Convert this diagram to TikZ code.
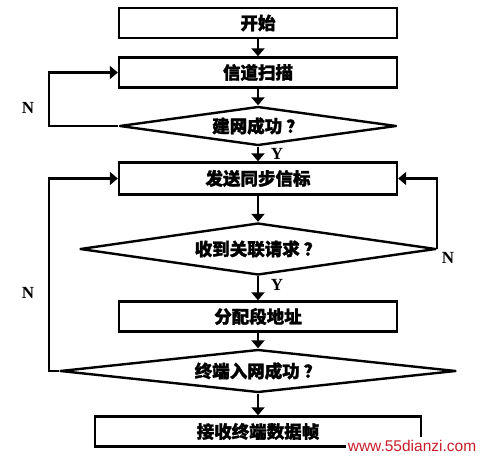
\documentclass[tikz,border=0pt]{standalone}
\usepackage{fontspec}
\usetikzlibrary{arrows.meta,shapes.geometric}
\setmainfont{Liberation Serif}
\setsansfont{Liberation Sans}
\newfontfamily\cjk{Noto Sans CJK SC}[BoldFeatures={FakeBold=1.5}]
\definecolor{ink}{HTML}{000000}
\definecolor{mark}{HTML}{C81E2A}
\tikzset{box/.style={draw=ink,line width=2.4pt,minimum width=278pt,minimum height=30pt,inner sep=0pt,font=\cjk\bfseries\fontsize{17.5}{17.5}\selectfont},
test/.style={diamond,aspect=7,draw=ink,line width=2.4pt,line join=round,inner sep=0pt,font=\cjk\bfseries\fontsize{17.5}{17.5}\selectfont},
link/.style={-{Triangle[length=8pt,width=13pt]},line width=2.4pt,ink},
lab/.style={font=\bfseries\fontsize{17}{17}\selectfont,text=ink}}

\begin{document}
\begin{tikzpicture}[x=1pt,y=-1pt]
\useasboundingbox (0,0) rectangle (481,457);
\node[box] (start) at (258,23) {开始};
\node[box] (scan) at (258,72.5) {信道扫描};
\node[test,minimum width=277pt,minimum height=39pt] (net) at (258,126) {建网成功 ？};
\node[box,minimum height=32pt] (beacon) at (258,178.5) {发送同步信标};
\node[test,minimum width=356pt,minimum height=52pt] (req) at (258,249) {收到关联请求 ？};
\node[box] (addr) at (258,316.5) {分配段地址};
\node[test,minimum width=396pt,minimum height=43pt] (join) at (258,371) {终端入网成功 ？};
\node[box,minimum width=326pt] (recv) at (258,431.5) {接收终端数据帧};
% main flow
\draw[link] (start) -- (scan);
\draw[link] (scan) -- (net);
\draw[link] (net) -- (beacon);
\draw[link] (beacon) -- (req);
\draw[link] (req) -- (addr);
\draw[link] (addr) -- (join);
\draw[link] (join) -- (recv);
% loops back
\coordinate (left) at (49,0);
\draw[link] (net.west) -- (net.west -| left) |- (scan.west);
\draw[link] (req.east) |- (beacon.east);
\draw[link] (join.west) -- (join.west -| left) |- (beacon.west);
\node[lab] (n1) at (28,108) {N};
\node[lab] (y1) at (277,154) {Y};
\node[lab] (n2) at (448,258) {N};
\node[lab] (y2) at (277,285) {Y};
\node[lab] (n3) at (28,293) {N};
\node[font=\sffamily\fontsize{15.5}{15.5}\selectfont,text=mark,fill=white,inner xsep=2pt,inner ysep=3pt] (site) at (412,446) {www.55dianzi.com};
\end{tikzpicture}
\end{document}
